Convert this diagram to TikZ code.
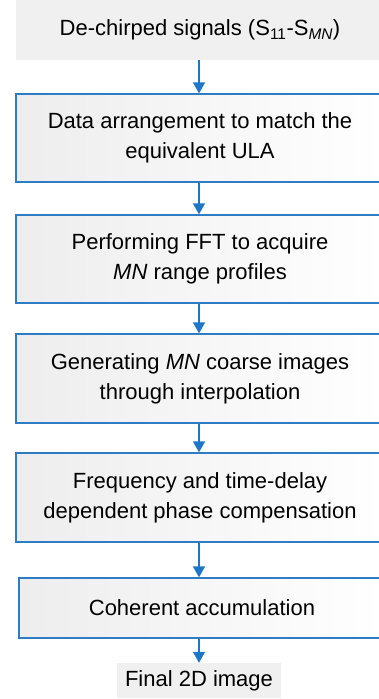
\documentclass[tikz,border=0pt]{standalone}
\usepackage{fontspec}
\setmainfont{Liberation Sans}
\usetikzlibrary{arrows.meta,shadings}
\definecolor{boxblue}{RGB}{46,125,196}
\definecolor{arrblue}{RGB}{30,118,200}
\definecolor{plaingray}{RGB}{240,240,240}
\begin{document}
\begin{tikzpicture}[x=1pt,y=1pt,
  stepbox/.style={draw=boxblue,line width=1.3pt,left color=black!7,right color=white,
    minimum width=368pt,align=center,inner sep=0pt,font=\fontsize{22}{30}\selectfont},
  plainbox/.style={fill=plaingray,align=center,inner sep=0pt,font=\fontsize{22}{30}\selectfont},
  flow/.style={draw=arrblue,line width=1.5pt,-{Triangle[width=12pt,length=11pt]}}]
\useasboundingbox (0,0) rectangle (379,-699);
\begin{scope}
\clip (0,0) rectangle (379,-699);
\node[plainbox,minimum width=368pt,minimum height=60pt] (s0) at (200,-30) {De-chirped signals (S\textsubscript{11}-S\textsubscript{\textit{MN}})};
\node[stepbox,minimum height=88pt] (s1) at (200,-138) {Data arrangement to match the\\equivalent ULA};
\node[stepbox,minimum height=88pt] (s2) at (200,-259) {Performing FFT to acquire\\\textit{MN} range profiles};
\node[stepbox,minimum height=89pt] (s3) at (200,-378.5) {Generating \textit{MN} coarse images\\through interpolation};
\node[stepbox,minimum height=89pt] (s4) at (200,-497.5) {Frequency and time-delay\\dependent phase compensation};
\node[stepbox,minimum width=366pt,minimum height=60pt] (s5) at (202,-608) {Coherent accumulation};
\node[plainbox,minimum width=164pt,minimum height=35pt] (s6) at (199,-680.5) {Final 2D image};
\end{scope}
\draw[flow] (s0.south -| 199,0) -- (s1.north -| 199,0);
\draw[flow] (s1.south -| 199,0) -- (s2.north -| 199,0);
\draw[flow] (s2.south -| 199,0) -- (s3.north -| 199,0);
\draw[flow] (s3.south -| 199,0) -- (s4.north -| 199,0);
\draw[flow] (s4.south -| 199,0) -- (s5.north -| 199,0);
\draw[flow] (s5.south -| 199,0) -- (s6.north -| 199,0);
\end{tikzpicture}
\end{document}
